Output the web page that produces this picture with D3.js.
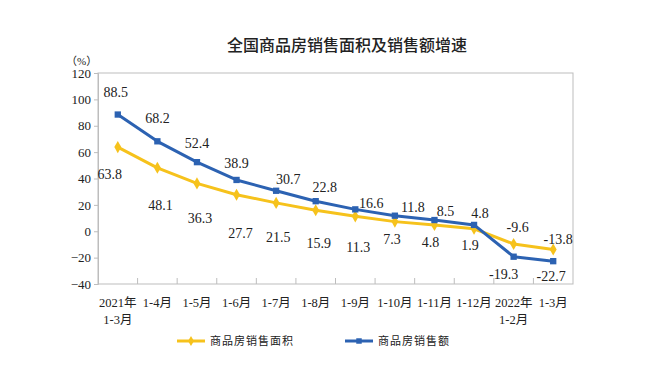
<!DOCTYPE html>
<html>
<head>
<meta charset="utf-8">
<script src="https://cdn.jsdelivr.net/npm/d3@7"></script>
<style>
  body { margin: 0; background: #fff; }
  svg text { font-family: "Liberation Serif", "Noto Sans CJK SC", serif; fill: #222; }
</style>
</head>
<body>
<svg id="chart" width="668" height="371"></svg>
<script>
// categories (x axis), two lines per label where needed
var months = ['2021年|1-3月', '1-4月', '1-5月', '1-6月', '1-7月', '1-8月', '1-9月', '1-10月', '1-11月', '1-12月', '2022年|1-2月', '1-3月'];
var areaGrowth = [63.8, 48.1, 36.3, 27.7, 21.5, 15.9, 11.3, 7.3, 4.8, 1.9, -9.6, -13.8];   // 商品房销售面积
var salesGrowth = [88.5, 68.2, 52.4, 38.9, 30.7, 22.8, 16.6, 11.8, 8.5, 4.8, -19.3, -22.7]; // 商品房销售额
var yTicks = [-40, -20, 0, 20, 40, 60, 80, 100, 120];

// label nudges, by hand, to sit where the original puts them
var areaLabelOff = [[-8, 27], [3, 37], [3, 35], [4, 38], [2, 34], [3, 33], [3, 31], [-3, 17], [-4, 17], [-4, 16], [4, -17], [5, -10]];
var salesLabelOff = [[-2, -22], [0, -23], [0, -19], [0, -17], [12, -12], [9, -14], [16, -6], [18, -9], [11, -9], [6, -12], [-10, 17], [-2, 15]];

var YELLOW = '#F6C21C', BLUE = '#2C62B2';

var svg = d3.select('#chart');
var m = {left: 98, right: 95, top: 73, bottom: 87};
var W = 668 - m.left - m.right, H = 371 - m.top - m.bottom;
var g = svg.append('g').attr('transform', 'translate(' + m.left + ',' + m.top + ')');

var x = d3.scaleBand().domain(months).range([0, W]);
var y = d3.scaleLinear().domain([-40, 120]).range([H, 0]);
var cx = function(i) { return x(months[i]) + x.bandwidth() / 2; };

// title
svg.append('text').attr('x', 347).attr('y', 51).attr('text-anchor', 'middle')
  .style('font-family', '"Noto Sans CJK SC", sans-serif').style('font-size', '16px').style('font-weight', 500)
  .text('全国商品房销售面积及销售额增速');
svg.append('text').attr('x', 66).attr('y', 65).style('font-size', '11px').text('（%）');

// frame
g.append('rect').attr('width', W).attr('height', H).attr('fill', 'none').attr('stroke', '#bdbdbd').attr('stroke-width', 1);

// y axis
var ya = g.append('g').call(d3.axisLeft(y).tickValues(yTicks).tickSize(4).tickPadding(3));
ya.select('.domain').attr('stroke', '#bdbdbd');
ya.selectAll('line').attr('stroke', '#bdbdbd');
ya.selectAll('text').style('font-size', '13px').style('font-family', '"Liberation Serif", serif').attr('fill', '#222');

// x axis: ticks between bands pointing up
var xa = g.append('g').attr('transform', 'translate(0,' + H + ')');
xa.selectAll('line').data(months.slice(1)).enter().append('line')
  .attr('x1', function(d) { return x(d); }).attr('x2', function(d) { return x(d); })
  .attr('y1', 0).attr('y2', -6).attr('stroke', '#bdbdbd');
xa.selectAll('text').data(months).enter().append('text')
  .attr('text-anchor', 'middle').style('font-size', '12.5px')
  .attr('transform', function(d, i) { return 'translate(' + cx(i) + ',23)'; })
  .each(function(d) {
    var parts = d.split('|');
    var t = d3.select(this);
    parts.forEach(function(p, k) {
      t.append('tspan').attr('x', 0).attr('dy', k ? 17 : 0).text(p);
    });
  });

var line = d3.line().x(function(d, i) { return cx(i); }).y(function(d) { return y(d); });

function series(vals, color, shape, offs) {
  g.append('path').datum(vals).attr('d', line).attr('fill', 'none')
    .attr('stroke', color).attr('stroke-width', 3).attr('stroke-linejoin', 'round');
  g.selectAll(null).data(vals).enter().append('path')
    .attr('d', d3.symbol().type(shape).size(shape === d3.symbolDiamond ? 42 : 40))
    .attr('transform', function(d, i) { return 'translate(' + cx(i) + ',' + y(d) + ')'; })
    .attr('fill', color);
  g.selectAll(null).data(vals).enter().append('text')
    .attr('x', function(d, i) { return cx(i) + offs[i][0]; })
    .attr('y', function(d, i) { return y(d) + offs[i][1]; })
    .attr('dy', '0.35em').attr('text-anchor', 'middle').style('font-size', '14px')
    .text(function(d) { return d.toFixed(1); });
}
series(areaGrowth, YELLOW, d3.symbolDiamond, areaLabelOff);
series(salesGrowth, BLUE, d3.symbolSquare, salesLabelOff);

// legend
var legend = [['商品房销售面积', YELLOW, d3.symbolDiamond, 177], ['商品房销售额', BLUE, d3.symbolSquare, 345]];
legend.forEach(function(l) {
  var lg = svg.append('g').attr('transform', 'translate(' + l[3] + ',341)');
  lg.append('line').attr('x1', 0).attr('x2', 28).attr('stroke', l[1]).attr('stroke-width', 3);
  lg.append('path').attr('d', d3.symbol().type(l[2]).size(30)).attr('transform', 'translate(14,0)').attr('fill', l[1]);
  lg.append('text').attr('x', 33).attr('dy', '0.35em').style('font-size', '11px')
    .style('font-family', '"Noto Sans CJK SC", sans-serif').attr('fill', '#444').style('letter-spacing', '1px').text(l[0]);
});
</script>
</body>
</html>
